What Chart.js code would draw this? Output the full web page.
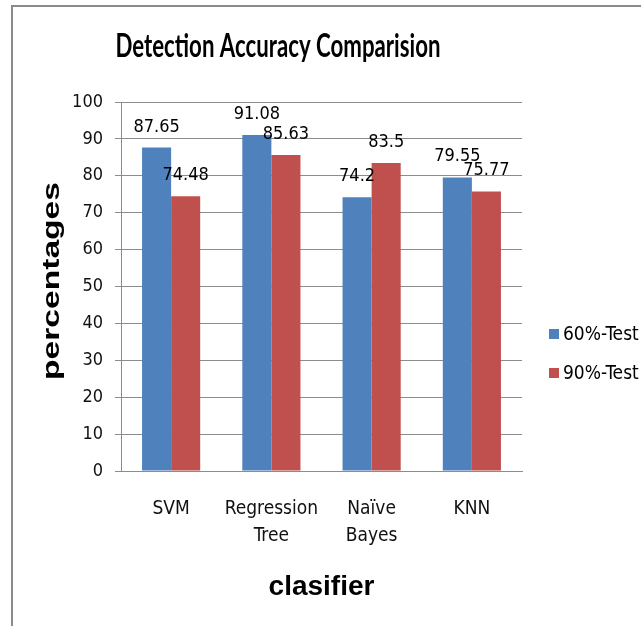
<!DOCTYPE html>
<html lang="en">
<head>
    <meta charset="UTF-8">
    <title>Detection Accuracy Comparision</title>
    <script src="https://cdn.jsdelivr.net/npm/chart.js"></script>
    <style>
        body { margin: 0; background: #fff; }
        canvas { display: block; }
    </style>
</head>
<body>
    <canvas id="accChart" width="641" height="626"></canvas>
    <script>
        const classifiers = [['SVM'], ['Regression', 'Tree'], ['Naïve', 'Bayes'], ['KNN']];
        const seriesNames = ['60%-Test', '90%-Test'];
        const test60 = [87.65, 91.08, 74.2, 79.55];
        const test90 = [74.48, 85.63, 83.5, 75.77];
        const yTicks = [0, 10, 20, 30, 40, 50, 60, 70, 80, 90, 100];

        const narrow = '"DejaVu Sans Condensed", "Liberation Sans Narrow", sans-serif';
        const bold = '"Liberation Sans", Arial, sans-serif';
        const gridGray = '#8c8c8c';

        // frame, titles, value labels and legend drawn on the canvas
        const decorations = {
            id: 'decorations',
            beforeDraw(chart) {
                const ctx = chart.ctx;
                ctx.save();
                ctx.fillStyle = '#fff';
                ctx.fillRect(0, 0, chart.width, chart.height);
                ctx.fillStyle = '#8a8a8a';
                ctx.fillRect(11, 5, chart.width - 11, 2);
                ctx.fillRect(11, 5, 2, chart.height - 5);
                ctx.restore();
            },
            afterDatasetsDraw(chart) {
                const ctx = chart.ctx;
                ctx.save();
                ctx.fillStyle = '#000';
                ctx.font = '18px ' + narrow;
                ctx.textAlign = 'center';
                ctx.textBaseline = 'alphabetic';
                chart.data.datasets.forEach((ds, i) => {
                    chart.getDatasetMeta(i).data.forEach((bar, j) => {
                        ctx.fillText(String(ds.data[j]), bar.x, bar.y - 16);
                    });
                });
                ctx.restore();
            },
            afterDraw(chart) {
                const ctx = chart.ctx;
                const area = chart.chartArea;
                ctx.save();
                ctx.fillStyle = '#000';

                // title, squeezed to the reference's proportions
                ctx.font = 'bold 33px Lato, ' + narrow;
                ctx.textAlign = 'center';
                ctx.textBaseline = 'alphabetic';
                let w = ctx.measureText('Detection Accuracy Comparision').width;
                ctx.save();
                ctx.translate(278, 57);
                ctx.scale(325 / w, 1);
                ctx.fillText('Detection Accuracy Comparision', 0, 0);
                ctx.restore();

                // x axis title
                ctx.font = 'bold 28px ' + bold;
                ctx.fillText('clasifier', (area.left + area.right) / 2, 595);

                // y axis title
                ctx.font = 'bold 24px ' + bold;
                w = ctx.measureText('percentages').width;
                ctx.save();
                ctx.translate(59, 281);
                ctx.rotate(-Math.PI / 2);
                ctx.scale(198 / w, 1);
                ctx.fillText('percentages', 0, 0);
                ctx.restore();

                // legend
                ctx.font = '19px ' + narrow;
                ctx.textAlign = 'left';
                ctx.textBaseline = 'middle';
                chart.data.datasets.forEach((ds, i) => {
                    const cy = 334 + i * 39;
                    ctx.fillStyle = ds.backgroundColor;
                    ctx.fillRect(549, cy - 5, 10, 10);
                    ctx.fillStyle = '#000';
                    ctx.fillText(ds.label, 563, cy + 1);
                });
                ctx.restore();
            }
        };

        new Chart(document.getElementById('accChart'), {
            type: 'bar',
            data: {
                labels: classifiers,
                datasets: [
                    { label: seriesNames[0], data: test60, backgroundColor: '#4f81bd' },
                    { label: seriesNames[1], data: test90, backgroundColor: '#c0504d' }
                ]
            },
            options: {
                responsive: false,
                animation: false,
                categoryPercentage: 0.58,
                barPercentage: 1,
                layout: { padding: { left: 0, top: 102, right: 119, bottom: 0 } },
                plugins: {
                    legend: { display: false },
                    title: { display: false },
                    tooltip: { enabled: false }
                },
                scales: {
                    x: {
                        grid: { display: false },
                        border: { color: gridGray, width: 1 },
                        ticks: {
                            color: '#111',
                            padding: 16,
                            maxRotation: 0,
                            font: { family: narrow, size: 19, lineHeight: 1.45 }
                        },
                        afterFit(scale) { scale.height = 155; }
                    },
                    y: {
                        min: 0,
                        max: 100,
                        afterBuildTicks(scale) { scale.ticks = yTicks.map(v => ({ value: v })); },
                        grid: { color: gridGray, tickLength: 6 },
                        border: { color: gridGray, width: 1 },
                        ticks: {
                            color: '#111',
                            padding: 12,
                            font: { family: narrow, size: 18 }
                        },
                        afterFit(scale) { scale.width = 121; }
                    }
                }
            },
            plugins: [decorations]
        });
    </script>
</body>
</html>
